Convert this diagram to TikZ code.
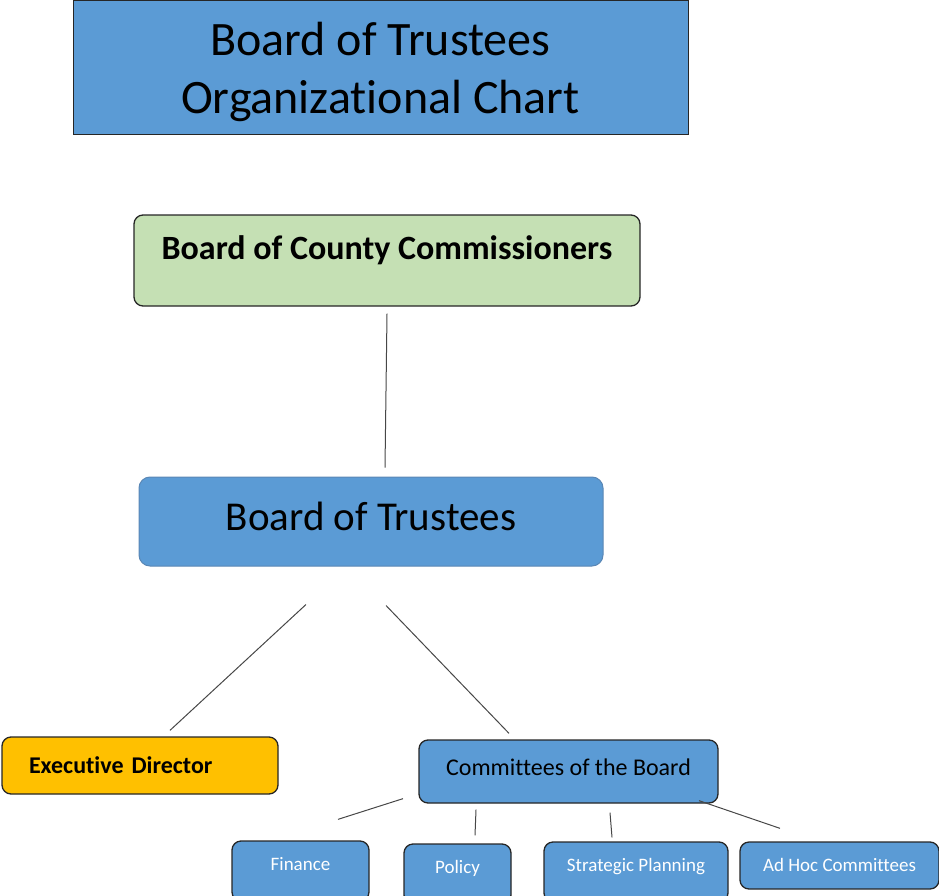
\documentclass[tikz,border=0pt]{standalone}
\usepackage{fontspec}
\setmainfont{Carlito}[Ligatures=NoCommon]

\definecolor{chartblue}{HTML}{5B9BD5}
\definecolor{chartgreen}{HTML}{C5E0B4}
\definecolor{chartgold}{HTML}{FFC000}
\definecolor{chartedge}{HTML}{262626}
\definecolor{trusteeedge}{HTML}{5A87B5}

\tikzset{
  unit/.style={draw=chartedge, line width=1.3pt, rounded corners=9pt, inner sep=0pt},
  subunit/.style={unit, fill=chartblue, text=white, minimum height=60pt, text depth=14pt, font=\fontsize{19}{22}\selectfont},
  link/.style={draw=chartedge!85, line width=1pt},
}

\begin{document}
\begin{tikzpicture}[x=1pt, y=-1pt] % 1 unit = 1 pixel of the page, y grows downwards
  \useasboundingbox (0,0) rectangle (939,896); % page size
  \clip (0,0) rectangle (939,896);
  % title
  \node[draw=chartedge, line width=1pt, fill=chartblue, inner sep=0pt, minimum width=615pt, minimum height=134pt,
        align=center, font=\fontsize{48}{58}\selectfont] (title) at (380.5,68) {\\[-16pt]Board of Trustees\\Organizational Chart};
  % boards
  \node[unit, fill=chartgreen, minimum width=506pt, minimum height=91pt, text height=26pt, text depth=29pt,
        font=\bfseries\fontsize{34}{40}\selectfont] (bcc) at (387,260.5) {Board of County Commissioners};
  \node[unit, draw=trusteeedge, line width=1pt, rounded corners=11pt, fill=chartblue, minimum width=464pt, minimum height=89pt,
        text depth=10pt, font=\fontsize{41}{48}\selectfont] (bot) at (371,521.5) {Board of Trustees};
  % second level
  \node[unit, fill=chartgold, inner xsep=27pt, text width=222pt, align=left, minimum height=57pt,
        font=\bfseries\fontsize{24}{28}\selectfont] (ed) at (140,765.5) {Executive Director};
  \node[unit, fill=chartblue, minimum width=299pt, minimum height=63pt, text depth=9pt,
        font=\fontsize{24}{28}\selectfont] (cob) at (568.5,771.5) {Committees of the Board};
  % committees
  \node[subunit, minimum width=137pt] (fin) at (300.5,871) {Finance};
  \node[subunit, minimum width=107pt] (pol) at (457.5,874) {Policy};
  \node[subunit, minimum width=184pt] (stp) at (636,872) {Strategic Planning};
  \node[subunit, minimum width=199pt, minimum height=47pt, text depth=2pt] (adh) at (839.5,865.5) {Ad Hoc Committees};
  % connectors (they stop short of the boxes)
  \draw[link] ([shift={(0,7)}]bcc.south) -- ([shift={(14,-9)}]bot.north);
  \draw[link] ([shift={(-65,38)}]bot.south) -- ([shift={(30,-6)}]ed.north);
  \draw[link] ([shift={(15,39)}]bot.south) -- ([shift={(-59.5,-6)}]cob.north);
  \draw[link] ([shift={(-165.5,-5)}]cob.south) -- ([shift={(37.5,-21)}]fin.north);
  \draw[link] ([shift={(-92.5,6)}]cob.south) -- ([shift={(17.5,-8)}]pol.north);
  \draw[link] ([shift={(41.5,9)}]cob.south) -- ([shift={(-24,-4)}]stp.north);
  \draw[link] ([shift={(130.5,-3)}]cob.south) -- ([shift={(-59.5,-13)}]adh.north);
\end{tikzpicture}
\end{document}
